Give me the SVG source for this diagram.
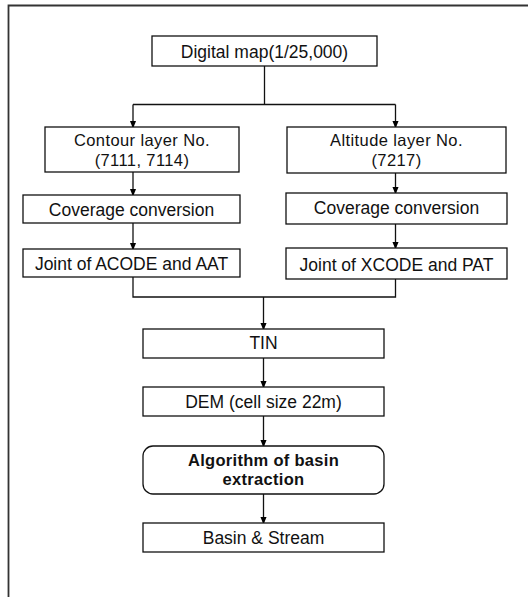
<svg xmlns="http://www.w3.org/2000/svg" width="528" height="597" viewBox="0 0 528 597">
<defs>
<marker id="ah" markerWidth="8" markerHeight="10" refX="8" refY="4" orient="auto" markerUnits="userSpaceOnUse" viewBox="0 0 10 8">
<path d="M0,0 L10,4 L0,8 Z" fill="#000"/>
</marker>
</defs>
<style>
.box{fill:#fff;stroke:#111;stroke-width:1.3}
.t{font-family:"Liberation Sans",Arial,sans-serif;font-size:17.5px;fill:#111;text-anchor:middle}
.m{font-size:16.5px;letter-spacing:0.4px}
.b{font-weight:bold;font-size:16.5px;letter-spacing:0.3px}
.c{fill:none;stroke:#111;stroke-width:1.3}
.a{marker-end:url(#ah)}
.frame{fill:none;stroke:#333;stroke-width:1.8}
</style>
<rect width="528" height="597" fill="#fff"/>
<path class="frame" d="M8.5,597 V5.5 H528"/>
<g id="connectors">
<path class="c" d="M264.5,66 V104.5"/>
<path class="c a" d="M133,104.5 H395.5 M133,104.5 V127"/>
<path class="c a" d="M395.5,104.5 V127"/>
<path class="c a" d="M133,172 V195"/>
<path class="c a" d="M395.5,173 V193"/>
<path class="c a" d="M133,223 V249"/>
<path class="c a" d="M395.5,224 V248"/>
<path class="c" d="M133,277 V297 H395.5 V279"/>
<path class="c a" d="M263.5,297 V329"/>
<path class="c a" d="M263.5,358 V387"/>
<path class="c a" d="M263.5,416 V446"/>
<path class="c a" d="M263.5,494 V523"/>
</g>
<g id="digital-map"><rect class="box" x="152" y="36" width="225" height="30"/><text class="t" x="264.5" y="57.5">Digital map(1/25,000)</text></g>
<g id="contour-layer"><rect class="box" x="45" y="127" width="194" height="45"/><text class="t m" x="142" y="146">Contour layer No.</text><text class="t m" x="142" y="165.5">(7111, 7114)</text></g>
<g id="altitude-layer"><rect class="box" x="287" y="127" width="219" height="46"/><text class="t m" x="396.5" y="146">Altitude layer No.</text><text class="t m" x="396.5" y="165.5">(7217)</text></g>
<g id="coverage-left"><rect class="box" x="23" y="195" width="217" height="28"/><text class="t" x="131.5" y="215.5">Coverage conversion</text></g>
<g id="coverage-right"><rect class="box" x="286" y="193" width="221" height="31"/><text class="t" x="396.5" y="213.5">Coverage conversion</text></g>
<g id="joint-left"><rect class="box" x="23" y="249" width="217" height="28"/><text class="t" x="131.5" y="270">Joint of ACODE and AAT</text></g>
<g id="joint-right"><rect class="box" x="286" y="248" width="221" height="31"/><text class="t" x="396.5" y="270.5">Joint of XCODE and PAT</text></g>
<g id="tin"><rect class="box" x="143" y="329" width="241" height="29"/><text class="t" x="263.5" y="349">TIN</text></g>
<g id="dem"><rect class="box" x="143" y="387" width="241" height="29"/><text class="t" x="263.5" y="407.5">DEM (cell size 22m)</text></g>
<g id="algorithm"><rect class="box" x="143" y="446" width="241" height="48" rx="10"/><text class="t b" x="263.5" y="465.5">Algorithm of basin</text><text class="t b" x="263.5" y="485">extraction</text></g>
<g id="basin-stream"><rect class="box" x="143" y="523" width="241" height="29"/><text class="t" x="263.5" y="543.5">Basin &amp; Stream</text></g>
</svg>
